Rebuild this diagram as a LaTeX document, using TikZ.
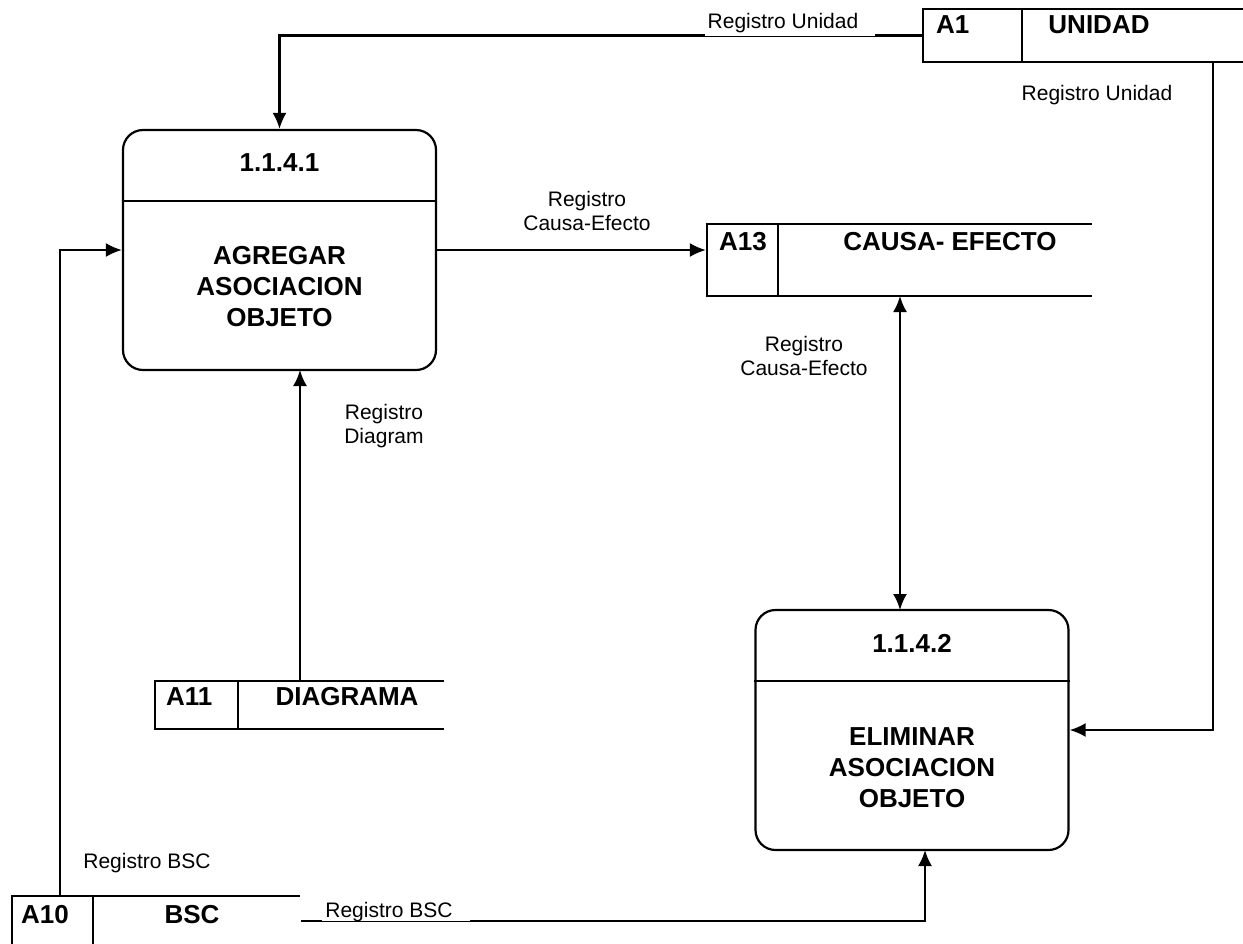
\documentclass[tikz,border=0pt]{standalone}
\usepackage{fontspec}
\setmainfont{Liberation Sans}
\usetikzlibrary{calc,fit,arrows.meta}

\begin{document}
\begin{tikzpicture}[x=0.5pt,y=-0.5pt,line width=1.1pt,
  process/.style={draw,rounded corners=10pt,minimum width=156.5pt,minimum height=120pt,inner sep=0pt},
  title/.style={font=\bfseries\fontsize{13}{15.5}\selectfont,align=center,inner sep=0pt},
  flowtext/.style={font=\fontsize{10.5}{12}\selectfont,align=center},
  onflow/.style={flowtext,fill=white,anchor=base,inner ysep=0pt,inner xsep=1.5pt},
  flow/.style={-{Latex[length=8pt,width=7pt]}},
  biflow/.style={{Latex[length=8pt,width=7pt]}-{Latex[length=8pt,width=7pt]}}]
  \useasboundingbox (0,0) rectangle (1243,943);

  %% Data stores (open on the right side)
  \foreach \n/\t/\xa/\ya/\xb/\yb/\xd/\xi/\xt/\yt in {
    A1/UNIDAD/923/9/1250/62/1022/935/1099/25,
    A13/CAUSA- EFECTO/707/224/1092/296/778/718/950/242,
    A11/DIAGRAMA/155/681/444/729/238/165/347/697,
    A10/BSC/12/896/300/946/93/20/192/915}
  {
    \node[inner sep=0pt,fit={(\xa,\ya) (\xb,\yb)}] (\n) {};
    \draw (\xb,\ya) -- (\xa,\ya) -- (\xa,\yb) -- (\xb,\yb);
    \draw (\xd,\ya) -- (\xd,\yb);
    \node[title,anchor=west] (\n-id) at (\xi,\yt) {\n};
    \node[title] (\n-name) at (\xt,\yt) {\t};
  }

  %% Processes
  \node[process] (P1) at (279.5,250) {};
  \draw ($(P1.north west)+(0,72)$) -- ($(P1.north east)+(0,72)$);
  \node[title] (P1id) at ($(P1.north)+(0,34)$) {1.1.4.1};
  \node[title] (P1txt) at ($(P1.center)+(0,37)$) {AGREGAR\\ASOCIACION\\OBJETO};

  \node[process] (P2) at (912,730) {};
  \draw ($(P2.north west)+(0,72)$) -- ($(P2.north east)+(0,72)$);
  \node[title] (P2id) at ($(P2.north)+(0,35)$) {1.1.4.2};
  \node[title] (P2txt) at ($(P2.center)+(0,38)$) {ELIMINAR\\ASOCIACION\\OBJETO};

  %% Free ends of the flows
  \coordinate (uR) at (1213,62);
  \coordinate (ceT) at (900,296);
  \coordinate (ceB) at (900,610);
  \coordinate (diT) at (300,681);
  \coordinate (diB) at (300,370);
  \coordinate (bscA) at (60,896);
  \coordinate (bscB) at (925,850);

  %% Flows
  \draw[flow] (A1.west) -| (P1.north);
  \draw[flow] (uR) |- (P2.east);
  \draw[flow] (P1.east) -- (P1.east -| A13.west);
  \draw[biflow] (ceT) -- (ceB);
  \draw[flow] (diT) -- (diB);
  \draw[flow] (bscA) |- (P1.west);
  \draw[flow] (A10.east) -| (bscB);

  %% Flow labels
  \node[onflow,text depth=3.75pt] (lblU1) at (790,28) {Registro Unidad\hspace{7pt}};
  \node[flowtext,anchor=base] (lblU2) at (1097,100) {Registro Unidad};
  \node[flowtext] (lblC1) at (587,211) {Registro\\Causa-Efecto};
  \node[flowtext] (lblC2) at (804,356) {Registro\\Causa-Efecto};
  \node[flowtext] (lblD) at (384,426) {Registro\\Diagram};
  \node[flowtext,anchor=base] (lblB1) at (147,868) {Registro BSC};
  \node[onflow,text depth=2pt] (lblB2) at (396,917) {Registro BSC\hspace{7pt}};
\end{tikzpicture}
\end{document}
